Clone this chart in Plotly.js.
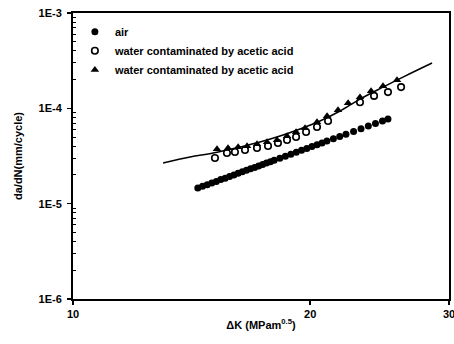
<!DOCTYPE html>
<html>
<head>
<meta charset="utf-8">
<script src="https://cdn.plot.ly/plotly-3.0.1.min.js"></script>
<style>html,body{margin:0;padding:0;background:#fff;}#chart{width:454px;height:344px;}</style>
</head>
<body>
<div id="chart"></div>
<script>
// ΔK (MPa m^0.5) and da/dN (mm/cycle)
const airK  = [14.4, 14.6, 14.8, 15.0, 15.2, 15.4, 15.6, 15.8, 16.0, 16.2, 16.4, 16.6, 16.8, 17.0, 17.2, 17.4, 17.6, 17.8, 18.0, 18.3, 18.6, 18.9, 19.2, 19.5, 19.8, 20.1, 20.4, 20.7, 21.0, 21.4, 21.8, 22.2, 22.7, 23.2, 23.7, 24.2, 24.7, 25.1];
const airDa = [1.46e-5, 1.52e-5, 1.58e-5, 1.65e-5, 1.71e-5, 1.79e-5, 1.85e-5, 1.93e-5, 2.00e-5, 2.08e-5, 2.16e-5, 2.24e-5, 2.32e-5, 2.40e-5, 2.49e-5, 2.58e-5, 2.67e-5, 2.76e-5, 2.85e-5, 3.00e-5, 3.15e-5, 3.30e-5, 3.46e-5, 3.63e-5, 3.80e-5, 3.97e-5, 4.15e-5, 4.34e-5, 4.53e-5, 4.79e-5, 5.07e-5, 5.35e-5, 5.72e-5, 6.11e-5, 6.51e-5, 6.93e-5, 7.37e-5, 7.73e-5];

const openK  = [15.14, 15.68, 16.05, 16.53, 17.12, 17.68, 18.20, 18.69, 19.19, 19.76, 20.40, 21.07, 23.13, 24.10, 25.10, 26.08];
const openDa = [3.01e-5, 3.40e-5, 3.48e-5, 3.65e-5, 3.83e-5, 4.02e-5, 4.33e-5, 4.65e-5, 5.00e-5, 5.64e-5, 6.37e-5, 7.36e-5, 1.16e-4, 1.35e-4, 1.48e-4, 1.67e-4];

const triK  = [15.23, 15.73, 16.20, 16.63, 17.12, 17.63, 18.15, 18.69, 19.19, 19.70, 20.40, 21.01, 21.69, 22.34, 23.13, 23.89, 24.74, 25.77];
const triDa = [3.74e-5, 3.83e-5, 3.93e-5, 4.02e-5, 4.22e-5, 4.43e-5, 4.65e-5, 5.12e-5, 5.64e-5, 6.21e-5, 7.18e-5, 8.30e-5, 9.60e-5, 1.137e-4, 1.31e-4, 1.52e-4, 1.71e-4, 1.98e-4];

const fitK  = [13.01, 14.08, 15.06, 16.29, 17.27, 18.31, 19.41, 20.58, 21.82, 23.13, 24.74, 26.38, 28.55];
const fitDa = [2.67e-5, 3.08e-5, 3.40e-5, 3.93e-5, 4.43e-5, 5.12e-5, 6.07e-5, 7.36e-5, 9.37e-5, 1.25e-4, 1.67e-4, 2.18e-4, 2.99e-4];

const xTicks = [10, 20, 30];
const xTickText = ['10', '20', '30'];
const yTicks = [1e-6, 1e-5, 1e-4, 1e-3];
const yTickText = ['1E-6', '1E-5', '1E-4', '1E-3'];

const seriesNames = ['air', 'water contaminated by acetic acid', 'water contaminated by acetic acid'];

const FONT = 'Liberation Sans, Arial, sans-serif';

// minor ticks at 2..9 within each decade of the y axis
const yMinor = [];
for (let i = 0; i < yTicks.length - 1; i++) {
  for (let m = 2; m <= 9; m++) yMinor.push(yTicks[i] * m);
}

const traces = [
  {x: fitK, y: fitDa, mode: 'lines', line: {color: '#000', width: 1.5, shape: 'spline'}, showlegend: false, hoverinfo: 'skip'},
  {x: airK, y: airDa, mode: 'markers', name: seriesNames[0],
   marker: {symbol: 'circle', size: 7, color: '#000'}},
  {x: openK, y: openDa, mode: 'markers', name: seriesNames[1],
   marker: {symbol: 'circle-open', size: 6.5, color: '#000', line: {width: 1.6, color: '#000'}}},
  {x: triK, y: triDa, mode: 'markers', name: seriesNames[2],
   marker: {symbol: 'triangle-up', size: 7.5, color: '#000'}}
];

const layout = {
  width: 454, height: 344,
  margin: {l: 73, r: 5, t: 13, b: 45},
  paper_bgcolor: '#fff', plot_bgcolor: '#fff',
  font: {family: FONT, size: 11, color: '#000', weight: 'bold'},
  showlegend: true,
  legend: {x: 0.005, y: 0.985, xanchor: 'left', yanchor: 'top', bgcolor: 'rgba(0,0,0,0)',
           font: {family: FONT, size: 11, color: '#000', weight: 'bold'}, tracegroupgap: 0, itemsizing: 'trace'},
  xaxis: {
    type: 'log', range: [1, Math.log10(30)],
    tickvals: xTicks, ticktext: xTickText,
    ticks: 'outside', ticklen: 4, tickwidth: 1.5, tickcolor: '#000',
    ticklabeloverflow: 'allow',
    showline: true, linewidth: 2, linecolor: '#000', mirror: true,
    showgrid: false, zeroline: false,
    tickfont: {family: FONT, size: 11, weight: 'bold'},
    title: {text: 'ΔK (MPam<sup>0.5</sup>)', font: {family: FONT, size: 11, weight: 'bold'}, standoff: 2}
  },
  yaxis: {
    type: 'log', range: [-6, -3],
    tickvals: yTicks, ticktext: yTickText,
    ticks: 'outside', ticklen: 4, tickwidth: 1.5, tickcolor: '#000',
    ticklabelstandoff: 3,
    minor: {tickvals: yMinor, ticks: 'inside', ticklen: 3, tickwidth: 1, tickcolor: '#000', showgrid: false},
    showline: true, linewidth: 2, linecolor: '#000', mirror: true,
    showgrid: false, zeroline: false,
    tickfont: {family: FONT, size: 11, weight: 'bold'},
    title: {text: 'da/dN(mm/cycle)', font: {family: FONT, size: 11, weight: 'bold'}, standoff: 14}
  }
};

Plotly.newPlot('chart', traces, layout, {displayModeBar: false, staticPlot: true});
</script>
</body>
</html>
